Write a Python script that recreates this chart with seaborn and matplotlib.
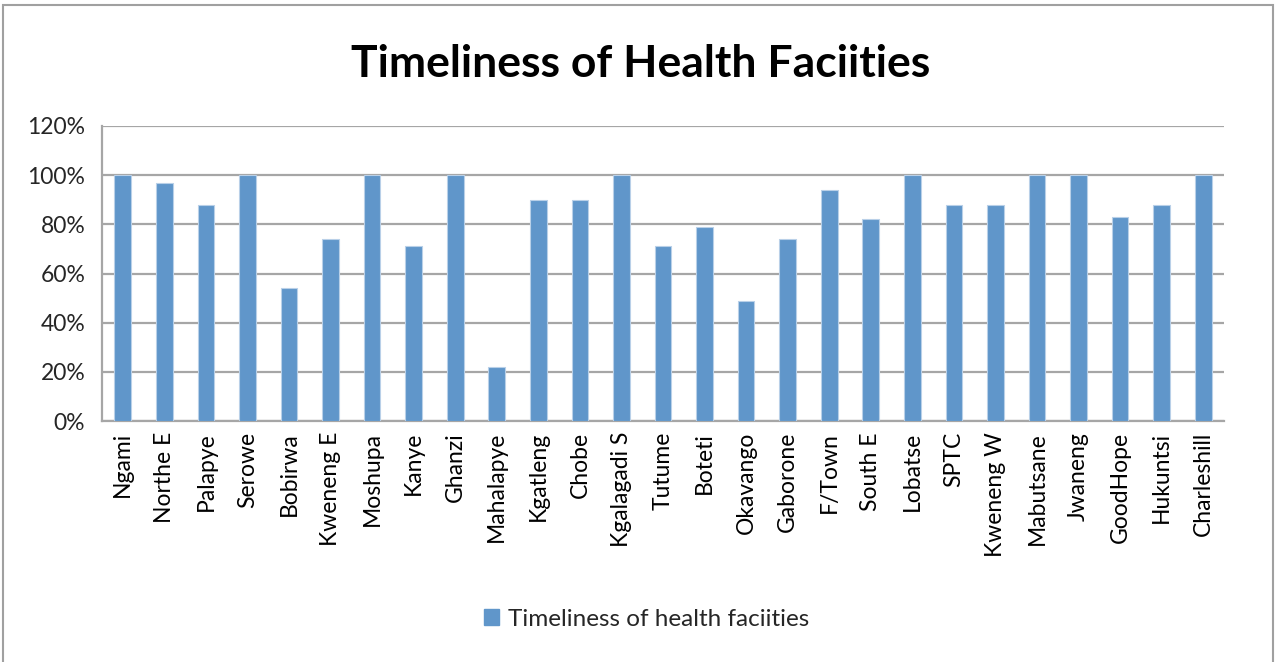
import numpy as np
import matplotlib.pyplot as plt
import matplotlib.ticker as mticker
from matplotlib.patches import Rectangle, Patch
import pandas as pd
import seaborn as sns

# data
districts = ['Ngami', 'Northe E', 'Palapye', 'Serowe', 'Bobirwa', 'Kweneng E',
             'Moshupa', 'Kanye', 'Ghanzi', 'Mahalapye', 'Kgatleng', 'Chobe',
             'Kgalagadi S', 'Tutume', 'Boteti', 'Okavango', 'Gaborone', 'F/Town',
             'South E', 'Lobatse', 'SPTC', 'Kweneng W', 'Mabutsane', 'Jwaneng',
             'GoodHope', 'Hukuntsi', 'Charleshill']
timeliness = [100, 97, 88, 100, 54, 74,
              100, 71, 100, 22, 90, 90,
              100, 71, 79, 49, 74, 94,
              82, 100, 88, 88, 100, 100,
              83, 88, 100]
series_label = 'Timeliness of health faciities'
title = 'Timeliness of Health Faciities'

df = pd.DataFrame({'district': districts, 'value': timeliness})

sns.set_style('white')
plt.rcParams['font.family'] = ['Lato', 'DejaVu Sans']

bar_color = '#6096CA'
grid_color = '#A6A6A6'

fig = plt.figure(figsize=(12.76, 6.62), dpi=100)
ax = fig.add_axes([102 / 1276, 1 - 421 / 662, 1122 / 1276, 295 / 662])

sns.barplot(data=df, x='district', y='value', color=bar_color, width=0.4,
            edgecolor='#B9D0E8', linewidth=0.8, saturation=1, ax=ax, zorder=3)

ax.set_xlim(-0.5, len(districts) - 0.5)
ax.set_ylim(0, 120)
ax.set_yticks(np.arange(0, 121, 20))
ax.yaxis.set_major_formatter(mticker.PercentFormatter(decimals=0))
ax.yaxis.grid(True, color=grid_color, linewidth=1.6, zorder=0)
ax.set_axisbelow(True)

ax.set_xlabel('')
ax.set_ylabel('')
ax.tick_params(axis='x', which='major', length=0, labelrotation=90,
               labelsize=16.5, pad=8, colors='black')
ax.set_xticks(np.arange(-0.5, len(districts), 1), minor=True)
ax.tick_params(axis='x', which='minor', length=7, width=1.4, color=grid_color,
               direction='out')
ax.tick_params(axis='y', length=7, width=1.4, color=grid_color, labelsize=16.5,
               pad=5, direction='out')

for side in ['top', 'right']:
    ax.spines[side].set_visible(False)
for side in ['left', 'bottom']:
    ax.spines[side].set_color(grid_color)
    ax.spines[side].set_linewidth(1.6)

fig.text(0.502, 1 - 64 / 662, title, ha='center', va='center',
         fontsize=32, fontweight='bold', color='black')

handle = Patch(facecolor=bar_color, edgecolor=bar_color)
fig.legend([handle], [series_label], loc='center',
           bbox_to_anchor=(0.507, 1 - 619 / 662), frameon=False,
           fontsize=17.5, handlelength=0.6, handleheight=0.6, handletextpad=0.4)

# chart area border
fig.patches.append(Rectangle((3 / 1276, -0.05), 1270 / 1276, 1.05 - 5 / 662,
                             transform=fig.transFigure, fill=False,
                             edgecolor='#A0A0A0', linewidth=1.5))

fig.savefig('out.png', dpi=100)
